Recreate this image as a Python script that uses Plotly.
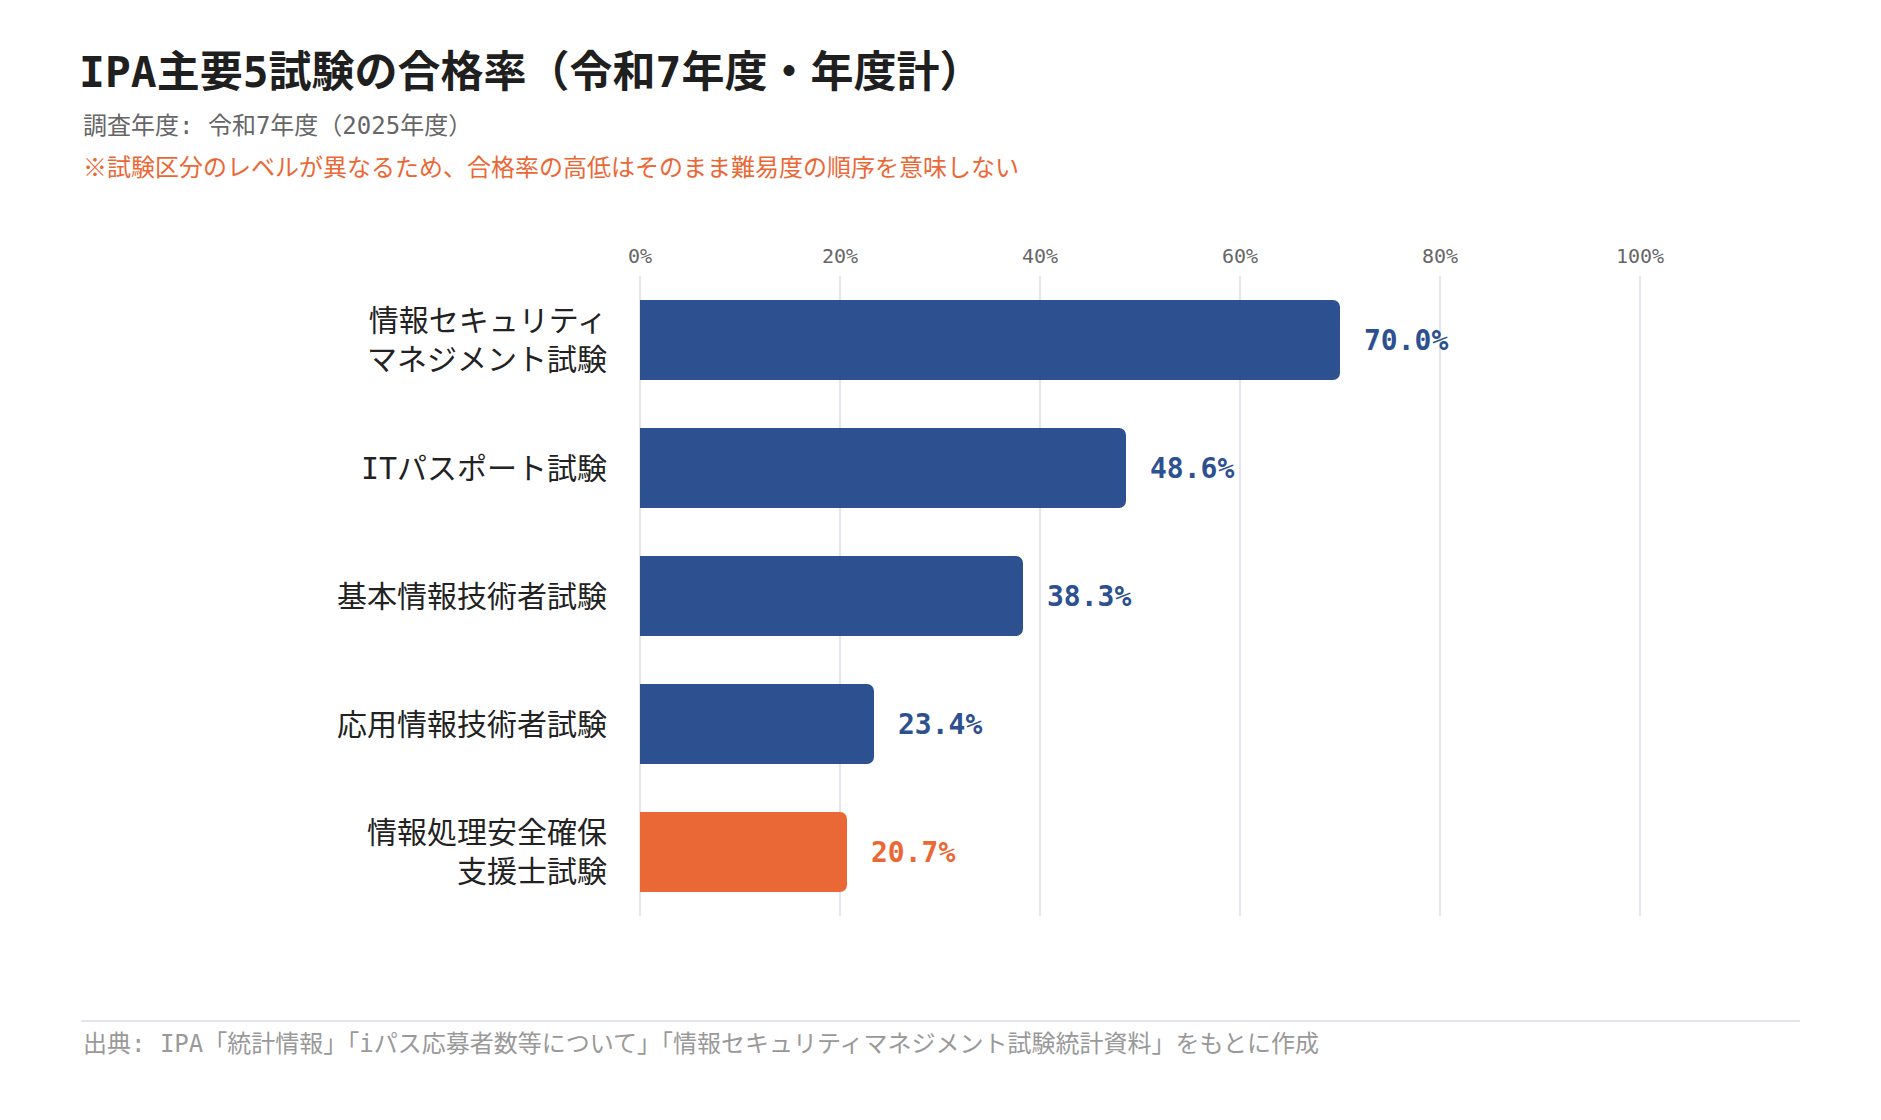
import plotly.graph_objects as go

# IPA 主要5試験 合格率（令和7年度・年度計）
exams = ["情報セキュリティ<br>マネジメント試験", "ITパスポート試験", "基本情報技術者試験",
         "応用情報技術者試験", "情報処理安全確保<br>支援士試験"]
pass_rate = [70.0, 48.6, 38.3, 23.4, 20.7]
highlight = "情報処理安全確保<br>支援士試験"
ticks = [0, 20, 40, 60, 80, 100]

BLUE = "#2D5190"
ORANGE = "#EA6835"
FONT = "DejaVu Sans Mono, Noto Sans CJK JP, sans-serif"

# page has an 8px body margin, so the figure starts at (8, 8)
OFF = 8
W, H = 1881 - 2 * OFF, 1120 - 2 * OFF
# plot area in screen pixels: x 640..1740, y 276..916
X0, X1, Y0, Y1 = 640, 1740, 276, 916
L, R, T, B = X0 - OFF, W - (X1 - OFF), Y0 - OFF, H - (Y1 - OFF)
PW, PH = X1 - X0, Y1 - Y0


def px(x):
    return (x - X0) / PW


def py(y):
    return (Y1 - y) / PH


colors = [ORANGE if e == highlight else BLUE for e in exams]

fig = go.Figure()
fig.add_trace(go.Bar(
    x=pass_rate, y=exams, orientation="h",
    marker=dict(color=colors, line=dict(width=0)),
    hoverinfo="skip",
))

# value labels next to each bar
for e, v, c in zip(exams, pass_rate, colors):
    fig.add_annotation(x=v, y=e, xref="x", yref="y", text=f"{v:.1f}%",
                       showarrow=False, xanchor="left", yanchor="middle", xshift=22,
                       font=dict(family=FONT, size=28, color=c, weight="bold"))

# subtitle, note, source
fig.add_annotation(x=px(81), y=py(126), xref="paper", yref="paper",
                   text="調査年度: 令和7年度（2025年度）", showarrow=False,
                   xanchor="left", yanchor="middle",
                   font=dict(family=FONT, size=24, color="#666666"))
fig.add_annotation(x=px(81), y=py(168), xref="paper", yref="paper",
                   text="※試験区分のレベルが異なるため、合格率の高低はそのまま難易度の順序を意味しない",
                   showarrow=False, xanchor="left", yanchor="middle",
                   font=dict(family=FONT, size=24, color=ORANGE))
fig.add_annotation(x=px(81), y=py(1044), xref="paper", yref="paper",
                   text="出典: IPA「統計情報」「iパス応募者数等について」「情報セキュリティマネジメント試験統計資料」をもとに作成",
                   showarrow=False, xanchor="left", yanchor="middle",
                   font=dict(family=FONT, size=24, color="#999999"))
fig.add_shape(type="line", xref="paper", yref="paper",
              x0=px(81), x1=px(1800), y0=py(1021), y1=py(1021),
              line=dict(color="#E2E5EC", width=2))

fig.update_layout(
    width=W, height=H,
    margin=dict(l=L, r=R, t=T, b=B, autoexpand=False),
    paper_bgcolor="white", plot_bgcolor="white",
    showlegend=False,
    bargap=0.375,
    barcornerradius=7,
    font=dict(family=FONT, color="#222222"),
    title=dict(text="<b>IPA主要5試験の合格率（令和7年度・年度計）</b>",
               x=(79 - OFF) / W, xanchor="left", xref="container",
               y=1 - (72 - OFF) / H, yanchor="middle", yref="container",
               font=dict(family=FONT, size=43, color="#1F1F1F")),
    xaxis=dict(range=[0, 110], side="top", tickmode="array", tickvals=ticks,
               ticktext=[f"{t}%" for t in ticks],
               showgrid=True, gridcolor="#E2E5EC", gridwidth=1.5,
               zeroline=True, zerolinecolor="#E2E5EC", zerolinewidth=1.5,
               showline=False, ticks="", ticklabelstandoff=8,
               tickfont=dict(family=FONT, size=20, color="#666666")),
    yaxis=dict(categoryorder="array", categoryarray=exams, range=[4.5, -0.5],
               showgrid=False, zeroline=False, showline=False, ticks="",
               ticklabelstandoff=32,
               tickfont=dict(family=FONT, size=30, color="#222222")),
)

fig.write_html("out.html")
